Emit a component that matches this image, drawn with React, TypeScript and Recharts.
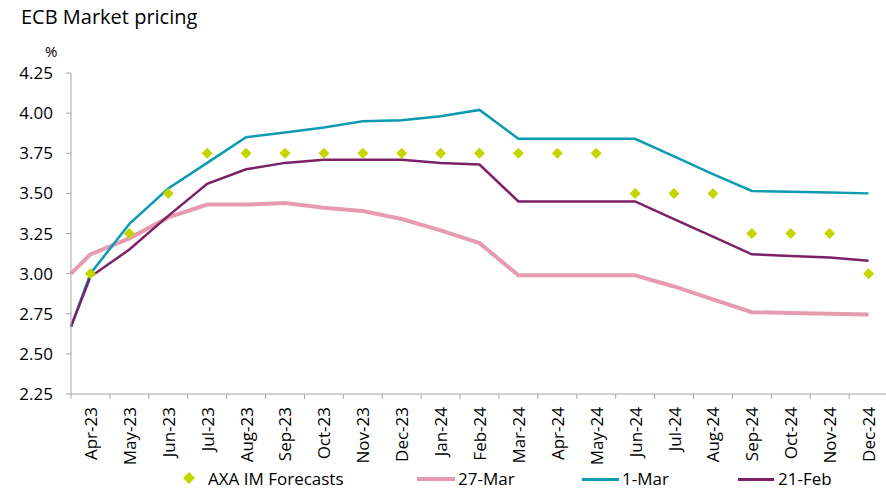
import { ComposedChart, Line, XAxis, YAxis } from "recharts";

const months = [
  "Apr-23", "May-23", "Jun-23", "Jul-23", "Aug-23", "Sep-23", "Oct-23",
  "Nov-23", "Dec-23", "Jan-24", "Feb-24", "Mar-24", "Apr-24", "May-24",
  "Jun-24", "Jul-24", "Aug-24", "Sep-24", "Oct-24", "Nov-24", "Dec-24",
];

// AXA IM forecasts, one per month
const axaForecasts = [
  3.0, 3.25, 3.5, 3.75, 3.75, 3.75, 3.75, 3.75, 3.75, 3.75, 3.75,
  3.75, 3.75, 3.75, 3.5, 3.5, 3.5, 3.25, 3.25, 3.25, 3.0,
];

// market pricing: first value is the starting (current) rate, then one per month
const pricing27Mar = [
  3.0, 3.12, 3.22, 3.35, 3.43, 3.43, 3.44, 3.41, 3.39, 3.34, 3.27, 3.19,
  2.99, 2.99, 2.99, 2.99, 2.92, 2.84, 2.76, 2.755, 2.75, 2.745,
];
const pricing1Mar = [
  2.67, 3.0, 3.31, 3.53, 3.69, 3.85, 3.88, 3.91, 3.95, 3.955, 3.98, 4.02,
  3.84, 3.84, 3.84, 3.84, 3.73, 3.62, 3.515, 3.51, 3.505, 3.5,
];
const pricing21Feb = [
  2.67, 2.98, 3.15, 3.36, 3.56, 3.65, 3.69, 3.71, 3.71, 3.71, 3.69, 3.68,
  3.45, 3.45, 3.45, 3.45, 3.34, 3.23, 3.12, 3.11, 3.1, 3.08,
];

const yTicks = [2.25, 2.5, 2.75, 3.0, 3.25, 3.5, 3.75, 4.0, 4.25];

const FONT = "'Open Sans', sans-serif";
const W = 886;
const H = 489;
const CHART_W = 888; // plot runs slightly past the right edge, as in the original
const Y_AXIS_W = 71;
const STEP = (CHART_W - Y_AXIS_W) / months.length;

const chartData = [
  { x: -0.5, m27: pricing27Mar[0], m1: pricing1Mar[0], f21: pricing21Feb[0] },
  ...months.map((_, i) => ({
    x: i,
    axa: axaForecasts[i],
    m27: pricing27Mar[i + 1],
    m1: pricing1Mar[i + 1],
    f21: pricing21Feb[i + 1],
  })),
];

const XTick = (props: any) => {
  const { x, y, payload } = props;
  const i = payload.value as number;
  const left = x - STEP / 2;
  return (
    <g>
      <line x1={left} x2={left} y1={y} y2={y + 5} stroke="#a6a6a6" />
      <text
        x={x}
        y={y + 13}
        transform={`rotate(-90, ${x}, ${y + 13})`}
        textAnchor="end"
        dominantBaseline="central"
        fontSize={17}
        fill="#000"
        fontFamily={FONT}
      >
        {months[i]}
      </text>
    </g>
  );
};

const Diamond = (props: any) => {
  const { cx, cy, value } = props;
  if (value == null || cx == null) return null;
  const r = 5.5;
  return (
    <polygon
      points={`${cx},${cy - r} ${cx + r},${cy} ${cx},${cy + r} ${cx - r},${cy}`}
      fill="#c4d600"
    />
  );
};

export default function App() {
  return (
    <div style={{ position: "absolute", left: 0, top: 0, width: W, height: H, overflow: "hidden", background: "#fff", fontFamily: FONT }}>
      <div style={{ position: "absolute", left: 21, top: 3, fontSize: 20, lineHeight: "normal", color: "#000" }}>
        ECB Market pricing
      </div>
      <div style={{ position: "absolute", left: 45, top: 41, fontSize: 15, lineHeight: "normal", color: "#000" }}>%</div>

      <ComposedChart
        width={CHART_W}
        height={H}
        data={chartData}
        margin={{ top: 73, right: 0, bottom: 0, left: 0 }}
      >
        <XAxis
          dataKey="x"
          type="number"
          domain={[-0.5, months.length - 0.5]}
          ticks={months.map((_, i) => i)}
          interval={0}
          height={95}
          tickLine={false}
          tickSize={0}
          tickMargin={0}
          axisLine={{ stroke: "#a6a6a6" }}
          tick={<XTick />}
        />
        <YAxis
          type="number"
          domain={[2.25, 4.25]}
          ticks={yTicks}
          width={Y_AXIS_W}
          tickFormatter={(v: number) => v.toFixed(2)}
          tick={{ fill: "#000", fontSize: 17, fontFamily: FONT }}
          tickLine={{ stroke: "#a6a6a6" }}
          tickSize={5}
          tickMargin={13}
          axisLine={{ stroke: "#a6a6a6" }}
        />
        <Line
          dataKey="m27"
          type="linear"
          stroke="#e79bb0"
          strokeWidth={4}
          dot={false}
          isAnimationActive={false}
        />
        <Line
          dataKey="m1"
          type="linear"
          stroke="#0c9bb0"
          strokeWidth={2.5}
          dot={false}
          isAnimationActive={false}
        />
        <Line
          dataKey="f21"
          type="linear"
          stroke="#7b2166"
          strokeWidth={2.5}
          dot={false}
          isAnimationActive={false}
        />
        <Line
          dataKey="axa"
          type="linear"
          stroke="none"
          strokeWidth={0}
          dot={<Diamond />}
          activeDot={false}
          isAnimationActive={false}
        />
      </ComposedChart>

      {/* Legend */}
      <div style={{ position: "absolute", top: 467, left: 0, width: W, height: 22, fontSize: 17, lineHeight: "normal", color: "#000" }}>
        <svg style={{ position: "absolute", left: 183, top: 5 }} width={12} height={12}>
          <polygon points="6,0 12,6 6,12 0,6" fill="#c4d600" />
        </svg>
        <span style={{ position: "absolute", left: 208, top: 0, whiteSpace: "nowrap" }}>AXA IM Forecasts</span>
        <div style={{ position: "absolute", left: 417, top: 10, width: 38, height: 4, background: "#e79bb0" }} />
        <span style={{ position: "absolute", left: 458, top: 0 }}>27-Mar</span>
        <div style={{ position: "absolute", left: 582, top: 10.5, width: 37, height: 3, background: "#0c9bb0" }} />
        <span style={{ position: "absolute", left: 622, top: 0 }}>1-Mar</span>
        <div style={{ position: "absolute", left: 738, top: 10.5, width: 36, height: 3, background: "#7b2166" }} />
        <span style={{ position: "absolute", left: 778, top: 0 }}>21-Feb</span>
      </div>
    </div>
  );
}
